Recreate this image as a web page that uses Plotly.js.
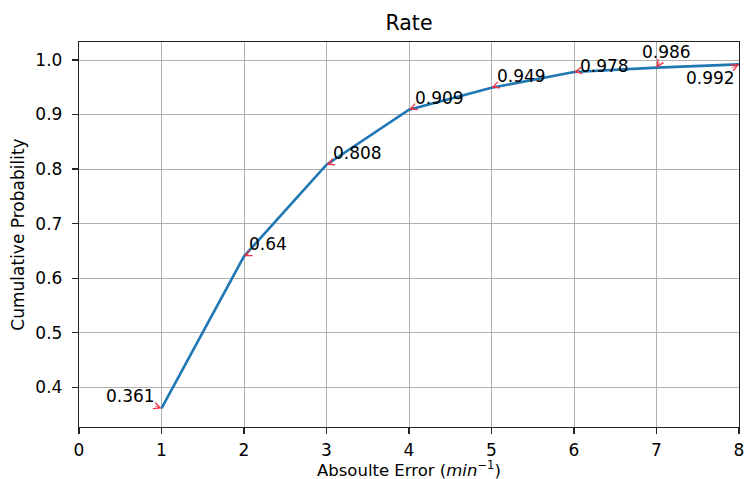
<!DOCTYPE html>
<html>
<head>
<meta charset="utf-8">
<script src="https://cdn.plot.ly/plotly-3.0.1.min.js"></script>
<style>html,body{margin:0;padding:0;background:#fff;}#chart{width:745px;height:479px;}</style>
</head>
<body>
<div id="chart"></div>
<script>
// Data
const errorMinutes = [1, 2, 3, 4, 5, 6, 7, 8];
const cumulativeProb = [0.361, 0.64, 0.808, 0.909, 0.949, 0.978, 0.986, 0.992];
const pointLabels = ['0.361', '0.64', '0.808', '0.909', '0.949', '0.978', '0.986', '0.992'];
const xTicks = [0, 1, 2, 3, 4, 5, 6, 7, 8];
const yTicks = [0.4, 0.5, 0.6, 0.7, 0.8, 0.9, 1.0];

// Label placement (pixel offsets of text from its point)
const labelOffsetX = [-31, 24, 31, 30, 30, 30, 10, -29];
const labelOffsetY = [-12, -12, -12, -12, -12, -6, -16, 14];

const font = 'DejaVu Sans, sans-serif';

const trace = {
  x: errorMinutes,
  y: cumulativeProb,
  type: 'scatter',
  mode: 'lines',
  line: {color: '#1f77b4', width: 2.6},
  hoverinfo: 'skip'
};

const annotations = errorMinutes.map((x, i) => ({
  x: x,
  y: cumulativeProb[i],
  xref: 'x', yref: 'y',
  text: pointLabels[i],
  showarrow: true,
  ax: labelOffsetX[i],
  ay: labelOffsetY[i],
  arrowcolor: '#f03040',
  arrowwidth: 0.8,
  arrowhead: 5,
  arrowsize: 1.6,
  borderpad: 0,
  font: {family: font, size: 17, color: '#000'}
}));

// x-axis title as a paper annotation for exact placement
annotations.push({
  xref: 'paper', yref: 'paper',
  x: 0.5, y: (426.7 - 468.5) / 385,
  xanchor: 'center', yanchor: 'middle',
  showarrow: false,
  borderpad: 0,
  text: 'Absoulte Error (<i>min</i><sup>−1</sup>)',
  font: {family: font, size: 16.5, color: '#000'}
});

const layout = {
  width: 745,
  height: 479,
  margin: {l: 78.5, r: 6, t: 41.7, b: 52.3},
  paper_bgcolor: '#fff',
  plot_bgcolor: '#fff',
  showlegend: false,
  title: {
    text: 'Rate',
    font: {family: font, size: 20.5, color: '#000'},
    x: 0.5, xref: 'paper',
    y: 1 - 23 / 479, yref: 'container', yanchor: 'middle'
  },
  xaxis: {
    range: [0, 8],
    tickvals: xTicks,
    ticktext: xTicks.map(String),
    ticks: 'outside', ticklen: 6, tickwidth: 1.2, tickcolor: '#222',
    ticklabelstandoff: 1,
    showgrid: true, gridcolor: '#b0b0b0', gridwidth: 1,
    zeroline: false,
    showline: true, mirror: true, linecolor: '#222', linewidth: 1.2,
    tickfont: {family: font, size: 17, color: '#000'},
    automargin: false
  },
  yaxis: {
    range: [0.327, 1.033],
    tickvals: yTicks,
    ticktext: yTicks.map(v => v.toFixed(1)),
    ticks: 'outside', ticklen: 6, tickwidth: 1.2, tickcolor: '#222',
    ticklabelstandoff: 6,
    showgrid: true, gridcolor: '#b0b0b0', gridwidth: 1,
    zeroline: false,
    showline: true, mirror: true, linecolor: '#222', linewidth: 1.2,
    tickfont: {family: font, size: 17, color: '#000'},
    automargin: false,
    title: {
      text: 'Cumulative Probability',
      font: {family: font, size: 17, color: '#000'},
      standoff: 6
    }
  },
  annotations: annotations
};

Plotly.newPlot('chart', [trace], layout, {displayModeBar: false, staticPlot: true});
</script>
</body>
</html>
